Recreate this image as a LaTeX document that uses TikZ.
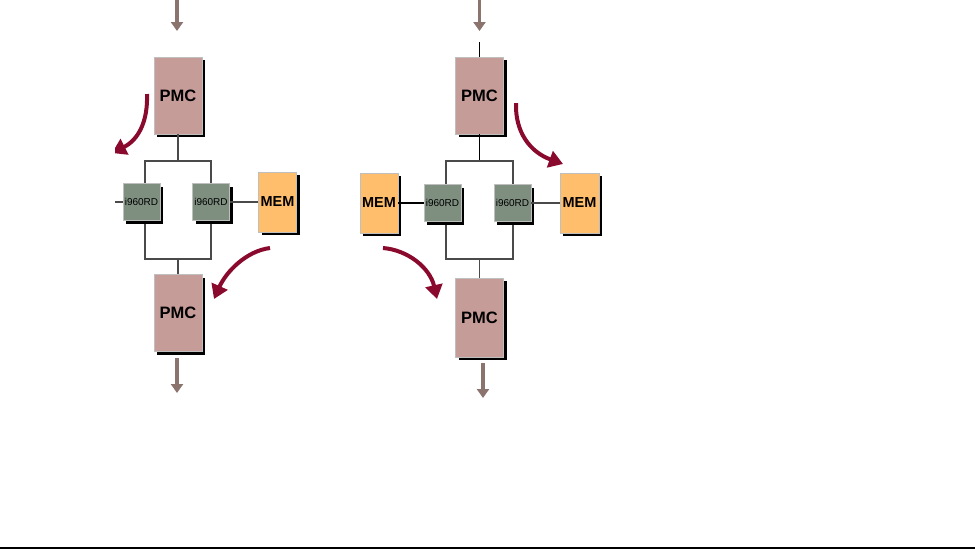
\documentclass[tikz,border=0pt]{standalone}
\usepackage{fontspec}
\setmainfont{Liberation Sans}
\usetikzlibrary{arrows.meta,shadows}
\definecolor{pmcfill}{HTML}{C69C98}
\definecolor{chipfill}{HTML}{7E8E7F}
\definecolor{memfill}{HTML}{FFBE6C}
\definecolor{redarr}{HTML}{8A0A2E}
\definecolor{grayarr}{HTML}{8B736E}
\definecolor{busline}{HTML}{4A4A4A}
\tikzset{
  boxbase/.style={draw=gray!50, line width=0.6pt, inner sep=0pt,
    drop shadow={shadow xshift=3pt, shadow yshift=-3pt, fill=black, opacity=1}},
  pmcbox/.style={boxbase, fill=pmcfill, minimum width=48pt, minimum height=77pt,
    font=\fontsize{16.5}{16.5}\selectfont\bfseries},
  membox/.style={boxbase, fill=memfill, minimum width=38pt, minimum height=60pt,
    font=\fontsize{14.5}{14.5}\selectfont\bfseries},
  chipbox/.style={boxbase, fill=chipfill, minimum width=37pt, minimum height=37pt,
    font=\fontsize{10}{10}\selectfont},
  busbox/.style={draw=busline, line width=1.1pt, inner sep=0pt},
  wire/.style={draw=busline, line width=1.1pt},
  flowarrow/.style={draw=grayarr, line width=3.5pt, -{Triangle[length=9pt,width=12pt]}},
  movearrow/.style={draw=redarr, line width=4pt, -{Triangle[length=14pt,width=17pt]}}
}
\begin{document}
\begin{tikzpicture}[x=1pt,y=-1pt]
\useasboundingbox (0,0) rectangle (975,550);

% ---------------- left panel ----------------
\begin{scope}
\clip (115,0) rectangle (975,550);
\node[busbox, minimum width=66pt, minimum height=98pt] (bus1) at (178,210) {};
\node[pmcbox] (pmc1) at (178,95.5) {PMC};
\node[pmcbox] (pmc2) at (178,313) {PMC};
\node[chipbox] (chipL1) at (141.5,202) {i960RD};
\node[chipbox] (chipR1) at (211,202) {i960RD};
\node[membox] (mem1) at (277.5,202) {MEM};
\coordinate (lin1) at (114,202);
\coordinate (top1a) at (177,0);
\coordinate (top1b) at (177,31);
\coordinate (bot1a) at (177,358);
\coordinate (bot1b) at (177,393);
\coordinate (ra1) at (147,94);
\coordinate (rb1) at (112,153);
\coordinate (ra2) at (270,248);
\coordinate (rb2) at (214,299);

\draw[wire] (pmc1.south) -- (bus1.north);
\draw[wire] (bus1.south) -- (pmc2.north);
\draw[wire] (chipR1.east) -- (mem1.west);
\draw[wire] (chipL1.west) -- (lin1);
\draw[flowarrow] (top1a) -- (top1b);
\draw[flowarrow] (bot1a) -- (bot1b);
\draw[movearrow] (ra1) .. controls (148,122) and (138,140) .. (rb1);
\draw[movearrow] (ra2) .. controls (246,251) and (226,272) .. (rb2);
\end{scope}

% ---------------- right panel ----------------
\node[busbox, minimum width=67pt, minimum height=98pt] (bus2) at (479.5,210) {};
\node[pmcbox] (pmc3) at (479.5,95.5) {PMC};
\node[pmcbox, minimum height=79pt] (pmc4) at (479.5,317.5) {PMC};
\node[chipbox] (chipL2) at (442.5,203) {i960RD};
\node[chipbox] (chipR2) at (512.5,203) {i960RD};
\node[membox] (mem2) at (379,203) {MEM};
\node[membox, minimum width=39pt] (mem3) at (579.5,203) {MEM};
\coordinate (top2a) at (479.5,0);
\coordinate (top2b) at (479.5,31);
\coordinate (stub2) at (479.5,42);
\coordinate (bot2a) at (483,363);
\coordinate (bot2b) at (483,398);
\coordinate (ra3) at (516,103);
\coordinate (rb3) at (563,164);
\coordinate (ra4) at (383,248);
\coordinate (rb4) at (437,299);

\draw[wire, draw=black] (stub2) -- (pmc3.north);
\draw[wire, draw=black] (pmc3.south) -- (bus2.north);
\draw[wire] (bus2.south) -- (pmc4.north);
\draw[wire, draw=black] (mem2.east) -- (chipL2.west);
\draw[wire] (chipR2.east) -- (mem3.west);
\draw[flowarrow] (top2a) -- (top2b);
\draw[flowarrow] (bot2a) -- (bot2b);
\draw[movearrow] (ra3) .. controls (515,132) and (530,152) .. (rb3);
\draw[movearrow] (ra4) .. controls (408,250) and (430,268) .. (rb4);

% bottom rule
\coordinate (ruleL) at (0,548);
\coordinate (ruleR) at (975,548);
\draw[line width=1.5pt] (ruleL) -- (ruleR);
\end{tikzpicture}
\end{document}
